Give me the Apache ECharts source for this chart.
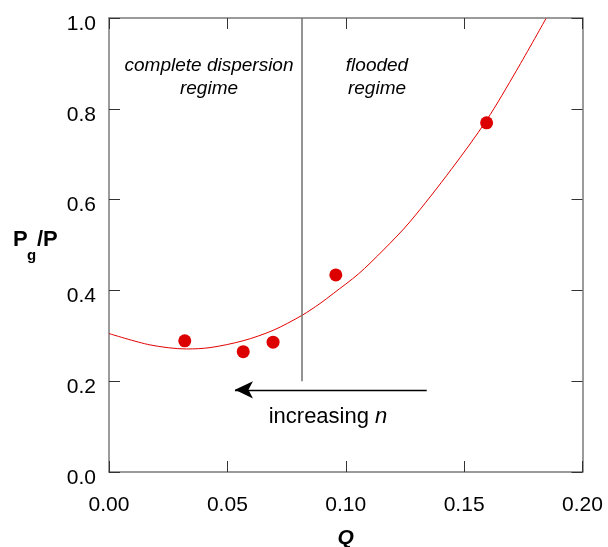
<!DOCTYPE html>
<html>
<head>
<meta charset="utf-8">
<script src="https://cdn.jsdelivr.net/npm/echarts@6/dist/echarts.min.js"></script>
<style>html,body{margin:0;padding:0;background:#fff}#c{width:608px;height:547px}</style>
</head>
<body>
<div id="c"></div>
<script>
// Measured data points (Q, Pg/P)
const pointQ = [0.0320, 0.0567, 0.0693, 0.0958, 0.1595];
const pointP = [0.289, 0.265, 0.286, 0.434, 0.769];
// Fitted curve
const curveQ = [0, 0.0173, 0.0328, 0.0427, 0.0566, 0.0693, 0.0815, 0.0891, 0.0947, 0.1053, 0.1159, 0.1271, 0.1445, 0.1595, 0.1722, 0.1846];
const curveP = [0.305, 0.280, 0.271, 0.274, 0.289, 0.312, 0.345, 0.371, 0.393, 0.436, 0.489, 0.551, 0.666, 0.775, 0.885, 0.999];
// Regime boundary and arrow
const boundaryQ = 0.0815;
const boundaryP = [0.2, 1.0];
const arrowQ = [0.1342, 0.0532];
const arrowP = 0.181;
// Axis ticks
const xTicks = [0, 0.05, 0.10, 0.15, 0.20];
const yTicks = [0, 0.2, 0.4, 0.6, 0.8, 1.0];

const chart = echarts.init(document.getElementById('c'), null, {renderer: 'canvas'});
const font = 'Liberation Sans, Arial, Helvetica, sans-serif';
const axisLine = {show: true, onZero: false, lineStyle: {color: '#7a7a7a', width: 1.5}};
const tick = {show: true, inside: true, length: 11, lineStyle: {color: '#333', width: 1}};

const option = {
  animation: false,
  backgroundColor: '#fff',
  grid: {left: 109, right: 25.5, top: 18, bottom: 75, containLabel: false, outerBoundsMode: 'none'},
  xAxis: [
    {type: 'value', min: xTicks[0], max: xTicks[xTicks.length-1], interval: 0.05, position: 'bottom',
     axisLine, axisTick: tick, splitLine: {show: false},
     axisLabel: {fontFamily: font, fontSize: 21, color: '#000', margin: 23, formatter: v => v.toFixed(2)},
     name: 'Q', nameLocation: 'middle', nameGap: 56,
     nameTextStyle: {fontFamily: font, fontSize: 21, fontWeight: 'bold', fontStyle: 'italic', color: '#000'}},
    {type: 'value', min: xTicks[0], max: xTicks[xTicks.length-1], interval: 0.05, position: 'top',
     axisLine, axisTick: tick, splitLine: {show: false}, axisLabel: {show: false}}
  ],
  yAxis: [
    {type: 'value', min: yTicks[0], max: yTicks[yTicks.length-1], interval: 0.2, position: 'left',
     axisLine, axisTick: tick, splitLine: {show: false},
     axisLabel: {fontFamily: font, fontSize: 21, color: '#000', margin: 13, verticalAlign: 'top', lineHeight: 12, formatter: v => v.toFixed(1)}},
    {type: 'value', min: yTicks[0], max: yTicks[yTicks.length-1], interval: 0.2, position: 'right',
     axisLine, axisTick: tick, splitLine: {show: false}, axisLabel: {show: false}}
  ],
  series: [
    {type: 'line', data: curveQ.map((q, i) => [q, curveP[i]]), smooth: 0.3, symbol: 'none',
     lineStyle: {color: '#e00000', width: 1}, z: 2},
    {type: 'scatter', data: pointQ.map((q, i) => [q, pointP[i]]), symbol: 'circle', symbolSize: 13,
     itemStyle: {color: '#dd0000', opacity: 1}, z: 3},
    {type: 'line', data: [], markLine: {
      silent: true, animation: false, label: {show: false},
      data: [
        [{coord: [boundaryQ, boundaryP[0]], symbol: 'none', lineStyle: {color: '#707070', width: 1.5, type: 'solid'}},
         {coord: [boundaryQ, boundaryP[1]], symbol: 'none'}],
        [{coord: [arrowQ[0], arrowP], symbol: 'none', lineStyle: {color: '#000', width: 1.3, type: 'solid'}},
         {coord: [arrowQ[1], arrowP], symbol: 'arrow', symbolSize: [13, 18]}]
      ]
    }}
  ],
  graphic: [
    {type: 'text', x: 209, y: 66, style: {text: 'complete dispersion', font: 'italic 19px ' + font, fill: '#000', textAlign: 'center', textVerticalAlign: 'middle'}},
    {type: 'text', x: 209, y: 89, style: {text: 'regime', font: 'italic 19px ' + font, fill: '#000', textAlign: 'center', textVerticalAlign: 'middle'}},
    {type: 'text', x: 377, y: 66, style: {text: 'flooded', font: 'italic 19px ' + font, fill: '#000', textAlign: 'center', textVerticalAlign: 'middle'}},
    {type: 'text', x: 377, y: 89, style: {text: 'regime', font: 'italic 19px ' + font, fill: '#000', textAlign: 'center', textVerticalAlign: 'middle'}},
    {type: 'text', x: 328, y: 417, style: {rich: {a: {fontFamily: font, fontSize: 22, fill: '#000'}, b: {fontFamily: font, fontSize: 22, fontStyle: 'italic', fill: '#000'}},
      text: '{a|increasing }{b|n}', textAlign: 'center', textVerticalAlign: 'middle'}},
    {type: 'text', x: 13, y: 240, style: {text: 'P', font: 'bold 22px ' + font, fill: '#000', textVerticalAlign: 'middle'}},
    {type: 'text', x: 27, y: 256, style: {text: 'g', font: 'bold 15px ' + font, fill: '#000', textVerticalAlign: 'middle'}},
    {type: 'text', x: 37, y: 240, style: {text: '/P', font: 'bold 22px ' + font, fill: '#000', textVerticalAlign: 'middle'}}
  ]
};
chart.setOption(option);
</script>
</body>
</html>
